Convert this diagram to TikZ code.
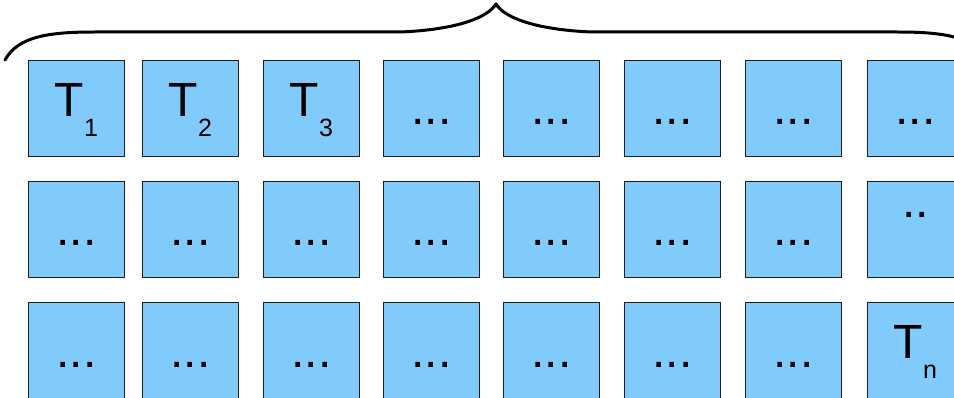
\documentclass[tikz,border=0pt]{standalone}
\usepackage{fontspec}
\setmainfont{Liberation Sans}
\definecolor{cellblue}{RGB}{129,202,252}
\definecolor{celledge}{RGB}{30,30,30}
\newcommand{\tsub}[1]{T\raisebox{-20pt}{\fontsize{25}{25}\selectfont #1}}
\begin{document}
\begin{tikzpicture}[x=1pt,y=-1pt,
  cell/.style={draw=celledge,fill=cellblue,line width=1pt,minimum width=96pt,minimum height=96pt,inner sep=0pt,anchor=north west},
  lbl/.style={inner sep=0pt,anchor=base,font=\fontsize{48}{48}\selectfont},
  bracepath/.style={line width=3pt,line cap=round,line join=round}]
\useasboundingbox (0,0) rectangle (954,398);
\clip (0,0) rectangle (954,398);
% cells
\foreach \c/\x in {1/28,2/142,3/263,4/383,5/503,6/624,7/745,8/867}{
  \foreach \r/\y in {1/60,2/181,3/302}{
    \node[cell] (b\r\c) at (\x,\y) {};
  }
}
% labels
\node[lbl] (t1) at (b11.north |- 0,117) {\tsub{1}};
\node[lbl] (t2) at (b12.north |- 0,117) {\tsub{2}};
\node[lbl] (t3) at (b13.north |- 0,117) {\tsub{3}};
\node[lbl] (tn) at (b38.north |- 0,359) {\tsub{n}};
\foreach \c in {4,5,6,7,8}{
  \node[lbl] (d1\c) at (b1\c.north |- 0,125) {...};
}
\foreach \c in {1,2,3,4,5,6,7}{
  \node[lbl] (d2\c) at (b2\c.north |- 0,246) {...};
  \node[lbl] (d3\c) at (b3\c.north |- 0,367) {...};
}
\node[lbl] (d28) at (b28.north |- 0,218) {..};
% brace
\draw[bracepath] (5,60) .. controls (18,36) and (50,32) .. (95,32) -- (400,32)
  .. controls (452,30) and (487,19) .. (496,4)
  .. controls (505,19) and (540,30) .. (592,32) -- (897,32)
  .. controls (942,32) and (974,36) .. (987,60);
\end{tikzpicture}
\end{document}
